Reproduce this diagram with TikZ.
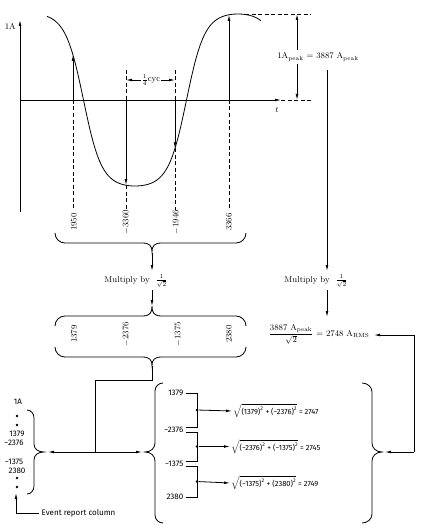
\documentclass[tikz,border=0pt]{standalone}
\usepackage{fontspec}
\usepackage{amsmath}
\setsansfont{Fira Sans}
\usetikzlibrary{arrows.meta}
\begin{document}
\begin{tikzpicture}[x=1pt,y=-1pt,
  ln/.style={line width=0.8pt},
  dsh/.style={line width=0.7pt, dash pattern=on 4pt off 2.5pt},
  arr/.style={line width=0.8pt,-{Latex[length=6pt,width=2.8pt]}},
  dbl/.style={line width=0.8pt,{Latex[length=6pt,width=2.8pt]}-{Latex[length=6pt,width=2.8pt]}},
  brc/.style={line width=0.8pt},
  sr/.style={font=\fontsize{8.5}{10}\selectfont, inner sep=1pt},
  sfn/.style={font=\sffamily\fontsize{8}{9}\selectfont, inner sep=0.5pt},
  fm/.style={font=\sffamily\fontsize{7.5}{9}\selectfont, inner sep=1pt, anchor=west},
  vl/.style={sr, rotate=90},
  dotn/.style={circle, fill, inner sep=0pt, minimum size=2.8pt}
]
\useasboundingbox (0,0) rectangle (427,532);

% axes
\coordinate (yb) at (20,212);
\coordinate (yt) at (20,20);
\draw[arr] (yb) -- (yt);
\node[sr, anchor=east] (l1A) at (17,26) {1A};
\coordinate (xa) at (20,100);
\coordinate (xb) at (281,100);
\coordinate (xc) at (311,100);
\draw[arr] (xa) -- (xb);
\draw[dsh] (xb) -- (xc);
\node[sr] (lt) at (277,110) {$t$};

% waveform
\draw[ln] plot[domain=47:261, samples=160] (\x, {100-86*tanh(1.7*cos((\x-238)*1.74757))/0.9354});

% sample lines
\coordinate (s1a) at (73,100); \coordinate (s1t) at (73,55); \coordinate (s1b) at (73,210);
\draw[arr] (s1a) -- (s1t); \draw[dsh] (s1a) -- (s1b);
\coordinate (s2u) at (126,70); \coordinate (s2a) at (126,100); \coordinate (s2t) at (126,185.2); \coordinate (s2b) at (126,210);
\draw[dsh] (s2u) -- (s2a); \draw[arr] (s2a) -- (s2t); \draw[dsh] (s2t) -- (s2b);
\coordinate (s3u) at (175,70); \coordinate (s3a) at (175,100); \coordinate (s3t) at (175,148.3); \coordinate (s3b) at (175,210);
\draw[dsh] (s3u) -- (s3a); \draw[arr] (s3a) -- (s3t); \draw[dsh] (s3t) -- (s3b);
\coordinate (s4a) at (229,100); \coordinate (s4t) at (229,14.8); \coordinate (s4b) at (229,210);
\draw[arr] (s4a) -- (s4t); \draw[dsh] (s4a) -- (s4b);

\node[vl] (v1) at (74,222) {1950};
\node[vl] (v2) at (126,222) {$-$3360};
\node[vl] (v3) at (176,222) {$-$1946};
\node[vl] (v4) at (229,222) {3366};

% quarter cycle
\node[sr, inner sep=0.5pt] (qc) at (151,80) {$\frac{1}{4}$cyc};
\coordinate (q1) at (126,80); \coordinate (q2) at (175,80);
\draw[arr] (qc.west) -- (q1);
\draw[arr] (qc.east) -- (q2);

% peak
\coordinate (p1) at (245,14); \coordinate (p2) at (311,14);
\draw[dsh] (p1) -- (p2);
\node[sr] (pk) at (318,57) {1A$_{\text{peak}}$ = 3887 A$_{\text{peak}}$};
\coordinate (pu) at (297,14); \coordinate (pd) at (297,100);
\draw[arr] (297,50) -- (pu);
\draw[arr] (297,64) -- (pd);
\coordinate (rv1) at (327,70);
\node[sr] (mr) at (316,281) {Multiply by \ $\frac{1}{\sqrt{2}}$};
\draw[arr] (rv1) -- (327,271);
\node[sr] (rms) at (319,334) {$\dfrac{\text{3887 A}_{\text{peak}}}{\sqrt{2}}$ = 2748 A$_{\text{RMS}}$};
\draw[arr] (327,290) -- (327,317);

% return arrows on the right
\coordinate (rr1) at (414,452); \coordinate (rr2) at (414,335);
\draw[ln] (rr1) -- (rr2);
\draw[arr] (rr2) -- (374,335);
\draw[arr] (rr1) -- (385,452);

% brace 1 (tip down)
\draw[brc] (55,233) to[out=-90,in=180] (65,243) -- (142,243) .. controls (150,243) and (152,246) .. (152,252)
  .. controls (152,246) and (154,243) .. (162,243) -- (236,243) to[out=0,in=-90] (246,233);
\coordinate (b1t) at (152,253);
\node[sr] (ml) at (136,281) {Multiply by \ $\frac{1}{\sqrt{2}}$};
\draw[arr] (b1t) -- (152,271);
\coordinate (b2t) at (152,306);
\draw[arr] (152,290) -- (b2t);

% brace 2 (tip up)
\draw[brc] (55,326) to[out=90,in=180] (65,316) -- (142,316) .. controls (150,316) and (152,313) .. (152,306)
  .. controls (152,313) and (154,316) .. (162,316) -- (236,316) to[out=0,in=90] (246,326);
\node[vl] (w1) at (74,334) {1379};
\node[vl] (w2) at (126,334) {$-$2376};
\node[vl] (w3) at (178,334) {$-$1375};
\node[vl] (w4) at (229,334) {2380};

% brace 3 (tip down)
\draw[brc] (55,347) to[out=-90,in=180] (65,357) -- (142,357) .. controls (150,357) and (152,360) .. (152,366)
  .. controls (152,360) and (154,357) .. (162,357) -- (236,357) to[out=0,in=-90] (246,347);
\coordinate (b3t) at (152,366);
\coordinate (j1) at (152,380); \coordinate (j2) at (95,380); \coordinate (j3) at (95,452);
\draw[ln] (b3t) -- (j1) -- (j2) -- (j3);
\draw[dbl] (48,452) -- (142,452);

% left column brace
\draw[brc] (27,410) to[out=0,in=90] (34,418) -- (34,444) .. controls (34,449) and (38,452) .. (44,452)
  .. controls (38,452) and (34,455) .. (34,460) -- (34,486) to[out=-90,in=0] (27,494);
\node[sfn] (c0) at (18,402) {1A};
\node[dotn] (d1) at (17,416) {};
\node[dotn] (d2) at (17,425) {};
\node[sfn] (c1) at (17,434) {1379};
\node[sfn] (c2) at (14,443) {−2376};
\node[sfn] (c3) at (14,462) {−1375};
\node[sfn] (c4) at (17,471) {2380};
\node[dotn] (d3) at (17,478) {};
\node[dotn] (d4) at (17,487) {};
\coordinate (ea) at (16,513); \coordinate (eb) at (39,513);
\draw[arr] (ea) -- (16,493);
\draw[ln] (ea) -- (eb);
\node[sfn, anchor=west] (erc) at (41,513) {Event report column};

% middle brace
\draw[brc] (163,383) to[out=180,in=90] (155,391) -- (155,443) .. controls (155,448) and (151,452) .. (145,452)
  .. controls (151,452) and (155,456) .. (155,461) -- (155,515) to[out=-90,in=180] (163,523);
\node[sfn, anchor=east] (m1) at (184,393) {1379};
\node[sfn, anchor=east] (m2) at (184,429.5) {−2376};
\node[sfn, anchor=east] (m3) at (184,463.5) {−1375};
\node[sfn, anchor=east] (m4) at (184,497) {2380};
\draw[ln] (186,393) -- (197,393) -- (197,427) -- (186,427);
\draw[ln] (186,432) -- (197,432) -- (197,461) -- (186,461);
\draw[ln] (186,466) -- (197,466) -- (197,497) -- (186,497);
\node[dotn] (e1) at (197,410) {};
\node[dotn] (e2) at (197,446.5) {};
\node[dotn] (e3) at (197,481.5) {};
\node[fm] (f1) at (232,411) {$\sqrt{\text{(1379)}^{\text{2}}\text{ + (−2376)}^{\text{2}}}$ = 2747};
\node[fm] (f2) at (230,446.5) {$\sqrt{\text{(−2376)}^{\text{2}}\text{ + (−1375)}^{\text{2}}}$ = 2745};
\node[fm] (f3) at (230,483) {$\sqrt{\text{(−1375)}^{\text{2}}\text{ + (2380)}^{\text{2}}}$ = 2749};
\draw[arr] (e1) -- (f1.west);
\draw[arr] (e2) -- (f2.west);
\draw[arr] (e3) -- (f3.west);

% right brace
\draw[brc] (362,383) to[out=0,in=90] (372,392) -- (372,443) .. controls (372,448) and (376,452) .. (382,452)
  .. controls (376,452) and (372,456) .. (372,461) -- (372,514) to[out=-90,in=0] (362,523);
\end{tikzpicture}
\end{document}
